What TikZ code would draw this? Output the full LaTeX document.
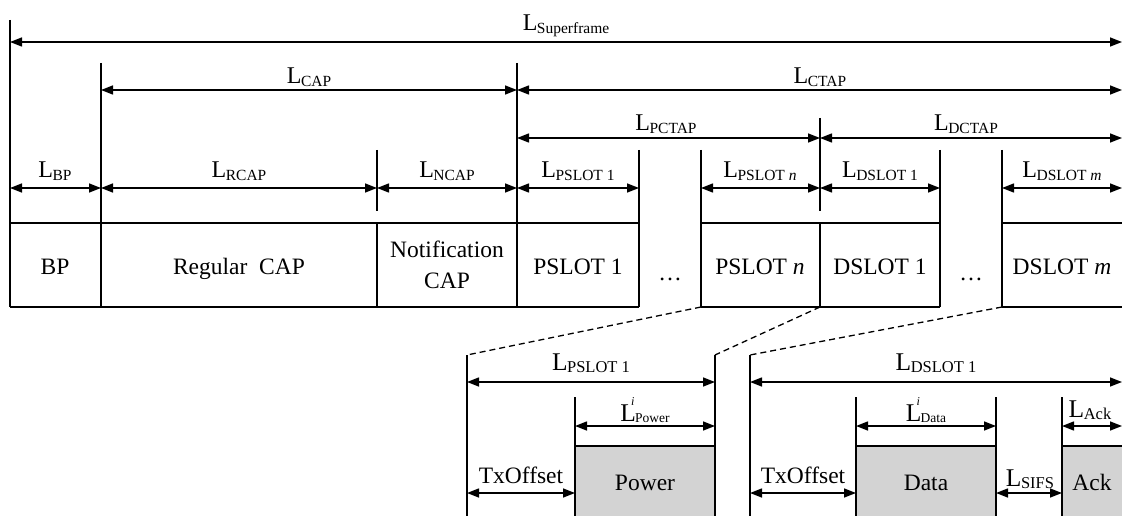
\documentclass[tikz,border=0pt]{standalone}
\usepackage{fontspec}
\setmainfont{Liberation Serif}
\usetikzlibrary{arrows.meta}
\definecolor{boxgray}{RGB}{211,211,211}
\newcommand{\Ls}[1]{L\kern-0.5pt\raisebox{-2.5pt}{\fontsize{15.5}{16}\selectfont #1}}
\newcommand{\Lb}[1]{L\kern-0.5pt\raisebox{-2.5pt}{\fontsize{16.5}{17}\selectfont #1}}
\newcommand{\Li}[1]{L\makebox[0pt][l]{\kern-5pt\raisebox{16pt}{\fontsize{12}{12}\selectfont\itshape i}}\kern-1pt\raisebox{-1pt}{\fontsize{13.5}{14}\selectfont #1}}
\begin{document}
\begin{tikzpicture}[x=1pt,y=-1pt,
  ln/.style={line width=1.4pt},
  dim/.style={line width=1.4pt,{Triangle[length=12pt,width=9pt]}-{Triangle[length=12pt,width=9pt]}},
  dsh/.style={line width=1.3pt,dash pattern=on 6pt off 4pt},
  txt/.style={font=\fontsize{23.5}{31}\selectfont,inner sep=0pt,anchor=base},
  lab/.style={font=\fontsize{24}{28}\selectfont,inner sep=0pt,anchor=base},
  labb/.style={font=\fontsize{25.5}{28}\selectfont,inner sep=0pt,anchor=base}]
\useasboundingbox (0,0) rectangle (1122,516);
% ---------- top vertical boundaries ----------
\draw[ln] (10,20) -- (10,307);
\draw[ln] (101,63) -- (101,307);
\draw[ln] (517,63) -- (517,307);
\draw[ln] (377,150) -- (377,211) (377,223) -- (377,307);
\draw[ln] (820,118) -- (820,211) (820,223) -- (820,307);
\draw[ln] (639,150) -- (639,307);
\draw[ln] (701,150) -- (701,307);
\draw[ln] (940,150) -- (940,307);
\draw[ln] (1002,150) -- (1002,307);
% ---------- box row ----------
\draw[ln] (10,223) -- (639,223) (701,223) -- (940,223) (1002,223) -- (1122,223);
\draw[ln] (10,307) -- (639,307) (701,307) -- (940,307) (1002,307) -- (1122,307);
% ---------- arrow end coordinates ----------
\coordinate (sfL) at (10,42);   \coordinate (sfR) at (1122,42);
\coordinate (capL) at (101,90); \coordinate (capR) at (517,90);
\coordinate (ctR) at (1122,90);
\coordinate (pcL) at (517,138); \coordinate (pcR) at (820,138);
\coordinate (dcR) at (1122,138);
\coordinate (r0) at (10,188);  \coordinate (r1) at (101,188);
\coordinate (r2) at (377,188); \coordinate (r3) at (517,188);
\coordinate (r4) at (639,188); \coordinate (r5) at (701,188);
\coordinate (r6) at (820,188); \coordinate (r7) at (940,188);
\coordinate (r8) at (1002,188); \coordinate (r9) at (1122,188);
\draw[dim] (sfL) -- (sfR);
\draw[dim] (capL) -- (capR);
\draw[dim] (capR) -- (ctR);
\draw[dim] (pcL) -- (pcR);
\draw[dim] (pcR) -- (dcR);
\draw[dim] (r0) -- (r1);
\draw[dim] (r1) -- (r2);
\draw[dim] (r2) -- (r3);
\draw[dim] (r3) -- (r4);
\draw[dim] (r5) -- (r6);
\draw[dim] (r6) -- (r7);
\draw[dim] (r8) -- (r9);
% ---------- top labels ----------
\node[lab] (lsf) at (566,31) {\Ls{Superframe}};
\node[lab] (lcap) at (309,84) {\Ls{CAP}};
\node[lab] (lctap) at (820,84) {\Ls{CTAP}};
\node[lab] (lpctap) at (666,131) {\Ls{PCTAP}};
\node[lab] (ldctap) at (966,131) {\Ls{DCTAP}};
\node[lab] (lbp) at (55,178) {\Ls{BP}};
\node[lab] (lrcap) at (239,178) {\Ls{RCAP}};
\node[lab] (lncap) at (447,178) {\Ls{NCAP}};
\node[lab] (lps1) at (578,178) {\Ls{PSLOT 1}};
\node[lab] (lpsn) at (760,178) {\Ls{PSLOT \textit{n}}};
\node[lab] (lds1) at (880,178) {\Ls{DSLOT 1}};
\node[lab] (ldsm) at (1062,178) {\Ls{DSLOT \textit{m}}};
% ---------- box texts ----------
\node[txt] (tbp) at (55,274) {BP};
\node[txt] (treg) at (239,274) {Regular\ \ CAP};
\node[txt,align=center,anchor=center] (tnot) at (447,265) {Notification\\CAP};
\node[txt] (tps1) at (578,274) {PSLOT 1};
\node[txt] (tdot1) at (670,280) {\dots};
\node[txt] (tpsn) at (760,274) {PSLOT \textit{n}};
\node[txt] (tds1) at (880,274) {DSLOT 1};
\node[txt] (tdot2) at (971,280) {\dots};
\node[txt] (tdsm) at (1062,274) {DSLOT \textit{m}};
% ---------- dashed zoom lines ----------
\coordinate (zA) at (701,307); \coordinate (zB) at (820,307); \coordinate (zC) at (1002,307);
\coordinate (pA) at (467,355); \coordinate (pB) at (715,355); \coordinate (dA) at (750,355);
\draw[dsh] (zA) -- (pA);
\draw[dsh] (zB) -- (pB);
\draw[dsh] (zC) -- (dA);
% ---------- lower shaded boxes ----------
\fill[boxgray] (575,446) rectangle (715,517);
\fill[boxgray] (856,446) rectangle (996,517);
\fill[boxgray] (1062,446) rectangle (1123,517);
\draw[ln] (575,446) -- (715,446);
\draw[ln] (856,446) -- (996,446);
\draw[ln] (1062,446) -- (1122,446);
\draw[ln] (pA) -- (467,517);
\draw[ln] (pB) -- (715,517);
\draw[ln] (575,397) -- (575,517);
\draw[ln] (dA) -- (750,517);
\draw[ln] (856,397) -- (856,517);
\draw[ln] (996,397) -- (996,517);
\draw[ln] (1062,397) -- (1062,517);
% ---------- lower arrows ----------
\coordinate (b1) at (467,382); \coordinate (b2) at (715,382);
\coordinate (b3) at (750,382); \coordinate (b4) at (1122,382);
\coordinate (c1) at (575,426); \coordinate (c2) at (715,426);
\coordinate (c3) at (856,426); \coordinate (c4) at (996,426);
\coordinate (c5) at (1062,426); \coordinate (c6) at (1122,426);
\coordinate (e1) at (467,493); \coordinate (e2) at (575,493);
\coordinate (e3) at (750,493); \coordinate (e4) at (856,493);
\coordinate (e5) at (996,493); \coordinate (e6) at (1062,493);
\draw[dim] (b1) -- (b2);
\draw[dim] (b3) -- (b4);
\draw[dim] (c1) -- (c2);
\draw[dim] (c3) -- (c4);
\draw[dim] (c5) -- (c6);
\draw[dim] (e1) -- (e2);
\draw[dim] (e3) -- (e4);
\draw[dim] (e5) -- (e6);
% ---------- lower labels ----------
\node[labb] (lp1) at (591,370) {\Lb{PSLOT 1}};
\node[labb] (ld1) at (936,370) {\Lb{DSLOT 1}};
\node[labb] (lpow) at (645,421) {\Li{Power}};
\node[labb] (ldat) at (926,421) {\Li{Data}};
\node[labb] (lack) at (1090,417) {\Lb{Ack}};
\node[labb] (lsifs) at (1030,486) {\Lb{SIFS}};
\node[txt] (tx1) at (521,483) {TxOffset};
\node[txt] (tx2) at (803,483) {TxOffset};
\node[txt] (tpow) at (645,490) {Power};
\node[txt] (tdat) at (926,490) {Data};
\node[txt] (tack) at (1092,490) {Ack};
\end{tikzpicture}
\end{document}
